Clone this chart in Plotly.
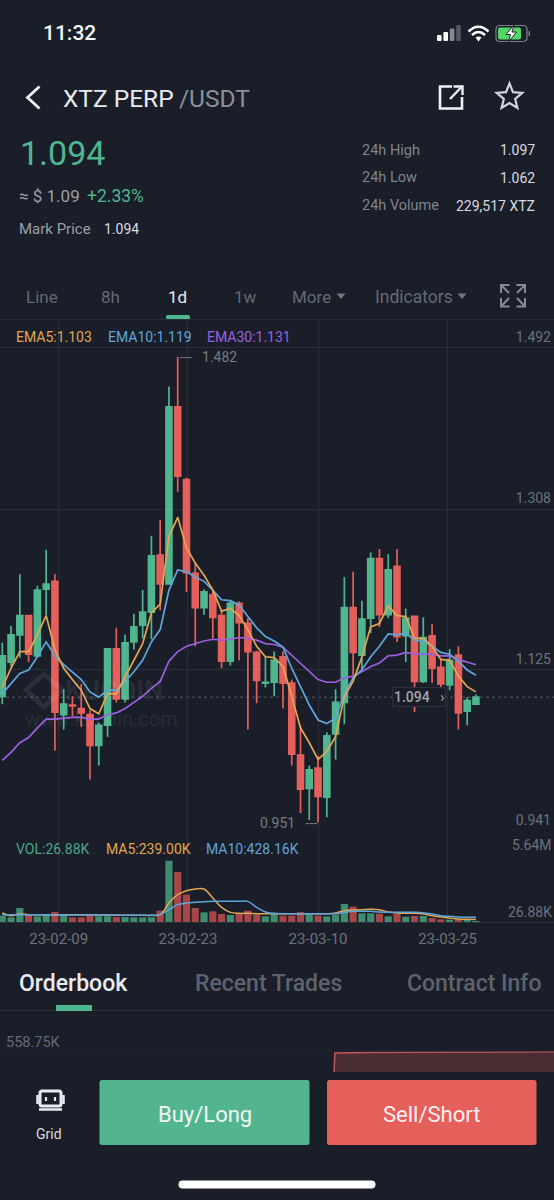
import math
import pandas as pd
import plotly.graph_objects as go

W = 554
H = 1200
BG = "#1a1e28"
GRID = "#2a2e38"
GREEN = "#50b68f"
RED = "#e5605b"
VOL_GREEN = "#3f8c70"
VOL_RED = "#a64648"
ORANGE = "#e3a653"
BLUE = "#5ea6dc"
PURPLE = "#9b5fe0"
AXIS_TEXT = "#6c727c"
FONT = "Roboto"

# candles, one per day
dates = pd.date_range("2023-02-02", periods=55, freq="D")
opens = [1.095, 1.134, 1.165, 1.187, 1.141, 1.217, 1.226, 1.074, 1.085, 1.081,
         1.074, 1.039, 1.062, 1.149, 1.092, 1.157, 1.176, 1.191, 1.256, 1.223,
         1.425, 1.342, 1.235, 1.196, 1.211, 1.187, 1.135, 1.201, 1.178, 1.145,
         1.110, 1.111, 1.140, 1.110, 1.028, 0.990, 1.013, 0.980, 1.052, 1.088,
         1.196, 1.142, 1.184, 1.252, 1.188, 1.243, 1.164, 1.186, 1.112, 1.164,
         1.128, 1.108, 1.142, 1.078, 1.086]
highs = [1.156, 1.175, 1.234, 1.188, 1.221, 1.262, 1.234, 1.103, 1.095, 1.109,
         1.079, 1.065, 1.149, 1.173, 1.165, 1.189, 1.216, 1.278, 1.296, 1.448,
         1.482, 1.344, 1.247, 1.217, 1.215, 1.193, 1.203, 1.203, 1.184, 1.147,
         1.140, 1.146, 1.146, 1.114, 1.062, 1.016, 1.027, 1.054, 1.103, 1.231,
         1.237, 1.204, 1.259, 1.263, 1.257, 1.263, 1.195, 1.187, 1.185, 1.177,
         1.138, 1.149, 1.152, 1.094, 1.097]
lows = [1.086, 1.129, 1.139, 1.134, 1.141, 1.187, 1.033, 1.057, 1.072, 1.060,
        1.000, 1.016, 1.049, 1.088, 1.088, 1.148, 1.161, 1.160, 1.193, 1.223,
        1.328, 1.214, 1.152, 1.188, 1.161, 1.127, 1.130, 1.136, 1.057, 1.087,
        1.105, 1.095, 1.081, 1.016, 0.962, 0.954, 0.951, 0.957, 1.023, 1.063,
        1.119, 1.125, 1.167, 1.174, 1.184, 1.157, 1.134, 1.077, 1.110, 1.110,
        1.104, 1.102, 1.057, 1.062, 1.085]
closes = [1.141, 1.165, 1.187, 1.143, 1.216, 1.223, 1.077, 1.086, 1.084, 1.076,
          1.039, 1.062, 1.149, 1.092, 1.156, 1.174, 1.191, 1.255, 1.223, 1.425,
          1.346, 1.236, 1.196, 1.214, 1.185, 1.135, 1.201, 1.179, 1.146, 1.113,
          1.111, 1.136, 1.110, 1.029, 0.989, 1.011, 0.981, 1.050, 1.088, 1.196,
          1.145, 1.183, 1.252, 1.188, 1.239, 1.163, 1.184, 1.112, 1.162, 1.127,
          1.109, 1.136, 1.076, 1.090, 1.094]
ema5 = [1.105, 1.127, 1.146, 1.146, 1.165, 1.187, 1.148, 1.127, 1.114, 1.102,
        1.081, 1.075, 1.098, 1.098, 1.117, 1.136, 1.155, 1.190, 1.200, 1.277,
        1.299, 1.264, 1.247, 1.233, 1.216, 1.192, 1.195, 1.187, 1.171, 1.152,
        1.140, 1.139, 1.129, 1.095, 1.059, 1.042, 1.023, 1.032, 1.049, 1.095,
        1.112, 1.140, 1.174, 1.178, 1.198, 1.187, 1.186, 1.161, 1.161, 1.152,
        1.137, 1.136, 1.118, 1.106, 1.100]
ema10 = [1.098, 1.110, 1.121, 1.125, 1.140, 1.157, 1.141, 1.131, 1.123, 1.114,
         1.100, 1.094, 1.102, 1.102, 1.112, 1.123, 1.136, 1.157, 1.171, 1.216,
         1.239, 1.237, 1.231, 1.226, 1.216, 1.205, 1.204, 1.199, 1.186, 1.173,
         1.163, 1.158, 1.151, 1.127, 1.106, 1.085, 1.068, 1.064, 1.070, 1.098,
         1.116, 1.125, 1.140, 1.152, 1.166, 1.165, 1.167, 1.159, 1.158, 1.152,
         1.145, 1.143, 1.135, 1.125, 1.119]
ema30 = [1.022, 1.031, 1.042, 1.048, 1.059, 1.069, 1.069, 1.070, 1.071, 1.071,
         1.069, 1.069, 1.074, 1.076, 1.081, 1.088, 1.095, 1.104, 1.112, 1.135,
         1.146, 1.152, 1.155, 1.158, 1.160, 1.159, 1.160, 1.162, 1.161, 1.159,
         1.155, 1.154, 1.151, 1.142, 1.133, 1.123, 1.114, 1.111, 1.111, 1.116,
         1.118, 1.123, 1.129, 1.133, 1.141, 1.142, 1.145, 1.143, 1.143, 1.143,
         1.141, 1.141, 1.137, 1.134, 1.131]

# volume pane, in thousands
volumes = [582, 429, 1287, 674, 521, 674, 920, 736, 429, 429,
           582, 521, 521, 460, 460, 429, 429, 429, 1042, 5640,
           4598, 2513, 1287, 889, 981, 736, 644, 736, 1042, 674,
           521, 828, 582, 582, 920, 674, 582, 521, 674, 1655,
           1410, 797, 797, 766, 521, 736, 490, 552, 552, 368,
           245, 215, 276, 215, 26.88]
vol_ma5 = [828, 582, 736, 674, 674, 674, 674, 674, 674, 674,
           674, 644, 644, 613, 613, 613, 613, 613, 674, 1747,
           2513, 2881, 3034, 3034, 2207, 1349, 889, 797, 797, 766,
           766, 766, 766, 766, 766, 766, 766, 766, 828, 1042,
           1103, 1134, 1165, 1134, 920, 828, 797, 797, 736, 582,
           460, 368, 276, 245, 239]
vol_ma10 = [674, 674, 674, 674, 674, 674, 644, 644, 644, 644,
            644, 644, 644, 644, 613, 613, 613, 613, 674, 1134,
            1594, 1747, 1808, 1870, 1900, 1900, 1900, 1900, 1900, 1349,
            920, 797, 766, 766, 766, 766, 766, 766, 766, 889,
            981, 981, 981, 920, 889, 889, 889, 889, 858, 736,
            582, 521, 460, 440, 428]

price_ticks = [0.941, 1.125, 1.308, 1.492]
date_ticks = ["2023-02-08 10:20", "2023-02-23 04:00", "2023-03-10 00:00", "2023-03-24 18:30"]
date_labels = ["23-02-09", "23-02-23", "23-03-10", "23-03-25"]

# orderbook depth strip at the bottom
depth_price = [1.094, 1.0945, 1.12, 1.18, 1.25]
depth_size = [300, 535, 540, 545, 550]


def px(x):
    return x / W


def py(y):
    return 1 - y / H


def path(d):
    # path written in screen pixels, turned into paper coordinates
    out = []
    is_x = True
    for tok in d.split():
        if tok.isalpha():
            out.append(tok)
        else:
            out.append(str(px(float(tok))) if is_x else str(py(float(tok))))
            is_x = not is_x
    return " ".join(out)


def rounded(x0, y0, x1, y1, r):
    return (f"M {x0 + r} {y0} L {x1 - r} {y0} Q {x1} {y0} {x1} {y0 + r} L {x1} {y1 - r} "
            f"Q {x1} {y1} {x1 - r} {y1} L {x0 + r} {y1} Q {x0} {y1} {x0} {y1 - r} "
            f"L {x0} {y0 + r} Q {x0} {y0} {x0 + r} {y0} Z")


shapes = []
notes = []


def add_path(d, fill=None, line=None, width=0, layer="above"):
    shapes.append(dict(type="path", path=path(d), xref="paper", yref="paper", layer=layer,
                       fillcolor=fill or "rgba(0,0,0,0)",
                       line=dict(color=line or "rgba(0,0,0,0)", width=width)))


def add_text(x, y, text, size, color, anchor="left", weight=400):
    notes.append(dict(x=px(x), y=py(y), xref="paper", yref="paper", text=text, showarrow=False,
                      xanchor=anchor, yanchor="middle", borderpad=0,
                      font=dict(family=FONT, size=size, color=color, weight=weight)))


fig = go.Figure()

fig.add_trace(go.Candlestick(
    x=dates, open=opens, high=highs, low=lows, close=closes,
    xaxis="x", yaxis="y", whiskerwidth=0,
    increasing=dict(line=dict(color=GREEN, width=1.7), fillcolor=GREEN),
    decreasing=dict(line=dict(color=RED, width=1.7), fillcolor=RED),
))
for values, color in [(ema30, PURPLE), (ema10, BLUE), (ema5, ORANGE)]:
    fig.add_trace(go.Scatter(x=dates, y=values, mode="lines", xaxis="x", yaxis="y",
                             line=dict(color=color, width=1.7)))

bar_colors = [VOL_GREEN if c >= o else VOL_RED for o, c in zip(opens, closes)]
fig.add_trace(go.Bar(x=dates, y=volumes, marker=dict(color=bar_colors, line_width=0),
                     xaxis="x2", yaxis="y2"))
fig.add_trace(go.Scatter(x=dates, y=vol_ma5, mode="lines", xaxis="x2", yaxis="y2",
                         line=dict(color=ORANGE, width=1.5, shape="spline")))
fig.add_trace(go.Scatter(x=dates, y=vol_ma10, mode="lines", xaxis="x2", yaxis="y2",
                         line=dict(color=BLUE, width=1.5, shape="spline")))

fig.add_trace(go.Scatter(x=depth_price, y=depth_size, mode="lines", xaxis="x3", yaxis="y3",
                         fill="tozeroy", fillcolor="#4a2e34",
                         line=dict(color="#c25557", width=1.5)))

x_range = ["2023-02-01 17:43", "2023-04-05 21:36"]
axis_common = dict(showline=False, zeroline=False, ticks="")

fig.update_layout(
    width=W, height=H, margin=dict(l=0, r=0, t=0, b=0),
    paper_bgcolor=BG, plot_bgcolor=BG, showlegend=False, bargap=0.18, boxgap=0.33, boxgroupgap=0,
    font=dict(family=FONT),
    xaxis=dict(domain=[0, 1], range=x_range, type="date", anchor="y", rangeslider=dict(visible=False),
               tickvals=date_ticks, showticklabels=False, showgrid=True, gridcolor=GRID, gridwidth=1,
               **axis_common),
    yaxis=dict(domain=[py(832), py(320)], range=[0.9403, 1.5239], anchor="x", side="right",
               tickvals=price_ticks, ticktext=[f"{v:.3f}" for v in price_ticks],
               ticklabelposition="inside", ticklabelshift=-11,
               tickfont=dict(family=FONT, size=14, color=AXIS_TEXT),
               showgrid=True, gridcolor=GRID, gridwidth=1, **axis_common),
    xaxis2=dict(domain=[0, 1], range=x_range, type="date", anchor="y2",
                tickvals=date_ticks, ticktext=date_labels, ticklabelstandoff=3,
                tickfont=dict(family=FONT, size=15, color=AXIS_TEXT),
                showgrid=True, gridcolor=GRID, gridwidth=1, showline=True, linecolor=GRID,
                zeroline=False, ticks=""),
    yaxis2=dict(domain=[py(922), py(832)], range=[0, 8280], anchor="x2", showticklabels=False,
                showgrid=False, **axis_common),
    xaxis3=dict(domain=[0, 1], range=[0.857, 1.25], anchor="y3", visible=False),
    yaxis3=dict(domain=[py(1072), py(1051)], range=[309, 558.75], anchor="x3", visible=False),
)

# last price line and its tag
fig.add_hline(y=closes[-1], line=dict(color="#565b66", width=1, dash="dot"), xref="x", yref="y", layer="below")
notes.append(dict(x=px(418.5), y=closes[-1], xref="paper", yref="y", xanchor="center",
                  text="1.094 &nbsp;&nbsp;›", showarrow=False,
                  bgcolor=BG, bordercolor="#2e323c", borderwidth=1, borderpad=1,
                  font=dict(family=FONT, size=14, color="#a0a4ac", weight=500)))

# high / low marks
notes.append(dict(x=dates[20], y=max(highs), xref="x", yref="y", text="---&nbsp;&nbsp; 1.482", showarrow=False,
                  xanchor="left", xshift=0, font=dict(family=FONT, size=14, color="#767b85")))
notes.append(dict(x=dates[36], y=min(lows), xref="x", yref="y", text="0.951 &nbsp;&nbsp;---", showarrow=False,
                  xanchor="right", xshift=1, font=dict(family=FONT, size=14, color="#767b85")))

# volume axis labels
add_text(553, 845, "5.64M", 14, AXIS_TEXT, "right")
add_text(553, 911.5, "26.88K", 14, AXIS_TEXT, "right")

# indicator legends
add_text(15, 337, "EMA5:1.103", 14, ORANGE)
add_text(107, 337, "EMA10:1.119", 14, BLUE)
add_text(206, 337, "EMA30:1.131", 14, PURPLE)
add_text(15, 849, "VOL:26.88K", 14, "#4da585")
add_text(105, 849, "MA5:239.00K", 14, ORANGE)
add_text(205, 849, "MA10:428.16K", 14, BLUE)

# watermark
add_path("M 44 674 L 62 690 L 44 707 L 26 690 Z", line="rgba(255,255,255,0.08)", width=5, layer="above")
add_text(64, 691, "KUCOIN", 27, "rgba(255,255,255,0.07)", weight=700)
add_text(24, 719, "www.kucoin.com", 20, "rgba(255,255,255,0.08)")

# status bar
add_text(69, 33, "11:32", 21, "#f4f5f7", "center", 500)
for i, (bar_h, bar_c) in enumerate(zip([6, 9, 12.5, 16], ["#ffffff", "#ffffff", "#85888e", "#55585f"])):
    x0 = 437 + i * 6.4
    add_path(rounded(x0, 41 - bar_h, x0 + 4.6, 41, 1), fill=bar_c)
add_path("M 468.5 31.5 Q 478.5 22 488.5 31.5", line="#ffffff", width=2.6)
add_path("M 472 35 Q 478.5 29 485 35", line="#ffffff", width=2.6)
add_path("M 475.5 37.5 Q 478.5 35.5 481.5 37.5 L 478.5 41.5 Z", fill="#ffffff")
add_path(rounded(496, 25.5, 527, 41.5, 4), line="#7b7f85", width=1.2)
add_path(rounded(498, 27.5, 521, 39.5, 2), fill="#52d769")
add_path(rounded(528.5, 31, 530, 36, 0.5), fill="#7b7f85")
add_path("M 514 25 L 506 34.5 L 510.5 34.5 L 508.5 42 L 516.5 32 L 512 32 Z", fill="#ffffff", line="#1a1e28", width=1)

# header
add_path("M 39.5 86.5 L 27.5 97.5 L 39.5 108.5", line="#f0f2f5", width=2.8)
add_text(62, 98, "XTZ PERP", 24.5, "#e8ebf0")
add_text(178, 98, "/USDT", 24.5, "#8b909a")
add_path("M 452 86.5 L 440 86.5 L 440 108.5 L 462 108.5 L 462 97", line="#f0f2f5", width=2.6)
add_path("M 450 99 L 461 87.5", line="#f0f2f5", width=2.4)
add_path("M 453.5 86.5 L 462.5 86.5 L 462.5 95", line="#f0f2f5", width=2.4)
star = []
for k in range(10):
    r = 13.5 if k % 2 == 0 else 6
    a = math.radians(-90 + 36 * k)
    star.append(f"{'M' if k == 0 else 'L'} {509.5 + r * math.cos(a):.1f} {97 + r * math.sin(a):.1f}")
add_path(" ".join(star) + " Z", line="#cdd6e6", width=2.2)

add_text(19, 153, "1.094", 34, GREEN)
add_text(18, 196, "≈ $ 1.09", 17, "#9a9ea7")
add_text(86, 196, "+2.33%", 17.5, GREEN)
add_text(18, 229, "Mark Price", 15, "#9a9ea7")
add_text(103, 229, "1.094", 14, "#d8dbe1")

stat_rows = [(150, "24h High", "1.097"), (178, "24h Low", "1.062"), (206, "24h Volume", "229,517 XTZ")]
for y, name, val in stat_rows:
    add_text(361, y, name, 14.5, "#7f848e")
    add_text(535.5, y, val, 14, "#d8dbe1", "right")

# interval tabs
for x, label, color in [(42, "Line", "#636973"), (110, "8h", "#636973"), (177, "1d", "#e8ebf0"), (245.5, "1w", "#636973")]:
    add_text(x, 297, label, 17, color, "center")
add_text(311, 297, "More", 17, "#636973", "center")
add_text(413.5, 297, "Indicators", 17.5, "#636973", "center")
for x in (341, 462):
    add_path(f"M {x - 4.5} 293.5 L {x + 4.5} 293.5 L {x} 299 Z", fill="#727781")
add_path(rounded(166, 315, 190, 319.5, 2), fill=GREEN)
for d in ("M 501 293 L 501 285 L 509.5 285", "M 502 286 L 509 293",
          "M 516.5 285 L 525 285 L 525 293", "M 524 286 L 517 293",
          "M 501 298 L 501 306.5 L 509.5 306.5", "M 502 305.5 L 509 298",
          "M 516.5 306.5 L 525 306.5 L 525 298", "M 524 305.5 L 517 298"):
    add_path(d, line="#868b95", width=2)
add_path("M 0 319.5 L 554 319.5", line=GRID, width=1)

# lower tabs
add_text(73, 983, "Orderbook", 23, "#e8ebf2", "center", 500)
add_text(268.5, 983, "Recent Trades", 23, "#5d636e", "center", 500)
add_text(474.5, 983, "Contract Info", 23, "#5d636e", "center", 500)
add_path("M 0 1010.5 L 554 1010.5", line=GRID, width=1)
add_path("M 56 1005 L 92 1005 L 92 1011 L 56 1011 Z", fill=GREEN)
add_text(5, 1042, "558.75K", 14.5, "#646a74")
add_path("M 0 1051 L 554 1051", line="#22262f", width=1)

# buttons
add_path(rounded(99.5, 1080, 309.5, 1145, 2.5), fill="#52b58f")
add_path(rounded(327, 1080, 536.5, 1145, 2.5), fill=RED)
add_text(204.5, 1114, "Buy/Long", 22, "#f3f7f5", "center")
add_text(431.5, 1114, "Sell/Short", 22, "#fbf0ef", "center")

# grid icon
add_path(rounded(40, 1091, 61, 1106, 2), line="#e8ebf2", width=3)
add_path("M 39 1109.5 L 62 1109.5", line="#e8ebf2", width=2.5)
add_path("M 37.5 1095 L 37.5 1104", line="#e8ebf2", width=2.5)
add_path("M 63.5 1095 L 63.5 1104", line="#e8ebf2", width=2.5)
add_path("M 46 1097 L 46 1101", line="#e8ebf2", width=2.2)
add_path("M 55 1097 L 55 1101", line="#e8ebf2", width=2.2)
add_text(49, 1134, "Grid", 14, "#d8dbe1", "center")

# home indicator
add_path(rounded(178.5, 1180.5, 375.5, 1188.5, 4), fill="#ffffff")

fig.update_layout(annotations=notes)
for s in shapes:
    fig.add_shape(**s)

fig.update_traces(hoverinfo="skip")
fig.write_html("out.html", config=dict(displayModeBar=False),
               post_script="document.body.style.margin='0';document.body.style.background='#1a1e28';")
